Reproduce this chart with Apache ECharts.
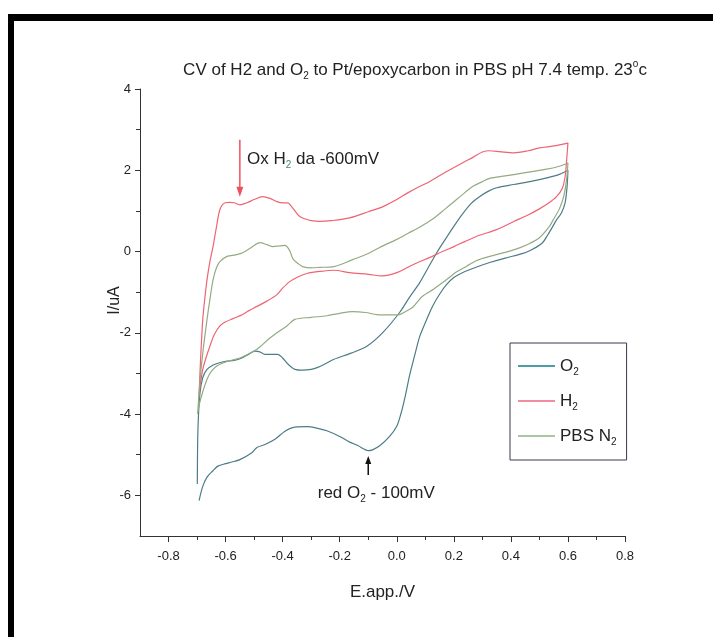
<!DOCTYPE html>
<html><head><meta charset="utf-8">
<script src="https://cdn.jsdelivr.net/npm/echarts@6/dist/echarts.min.js"></script>
<style>html,body{margin:0;padding:0;background:#fff}#c{width:713px;height:637px}</style>
</head><body><div id="c"></div>
<script>
// ---- tick labels ----
const xMajorTicks = [-0.8, -0.6, -0.4, -0.2, 0, 0.2, 0.4, 0.6, 0.8];
const xMinorTicks = [-0.7, -0.5, -0.3, -0.1, 0.1, 0.3, 0.5, 0.7];
const yMajorTicks = [-6, -4, -2, 0, 2, 4];
const yMinorTicks = [-5, -3, -1, 1, 3];
const seriesNames = ['O2', 'H2', 'PBS N2'];

// ---- O2 (forward then reverse sweep) ----
const o2X = [-0.699, -0.697, -0.690, -0.680, -0.665, -0.645, -0.627, -0.600, -0.570, -0.543, -0.520, -0.497, -0.480, -0.462, -0.440, -0.417, -0.400, -0.380, -0.357, -0.330, -0.300, -0.277, -0.250, -0.220, -0.160, -0.105, -0.050, 0.010, 0.045, 0.080, 0.110, 0.140, 0.170, 0.200, 0.230, 0.260, 0.290, 0.320, 0.350, 0.410, 0.466, 0.530, 0.570, 0.600,
  0.597, 0.590, 0.577, 0.560, 0.547, 0.530, 0.510, 0.466, 0.430, 0.380, 0.326, 0.280, 0.230, 0.200, 0.175, 0.150, 0.126, 0.100, 0.080, 0.063, 0.045, 0.030, 0.015, 0.000, -0.025, -0.060, -0.085, -0.100, -0.115, -0.135, -0.165, -0.200, -0.245, -0.277, -0.315, -0.357, -0.392, -0.427, -0.462, -0.490, -0.508, -0.550, -0.578, -0.600, -0.627, -0.645, -0.665, -0.680, -0.693];
const o2Y = [-5.72, -4.40, -3.50, -3.10, -2.90, -2.80, -2.75, -2.70, -2.68, -2.62, -2.53, -2.45, -2.47, -2.53, -2.53, -2.53, -2.62, -2.78, -2.90, -2.92, -2.90, -2.85, -2.76, -2.65, -2.50, -2.33, -2.00, -1.50, -1.12, -0.77, -0.40, -0.03, 0.30, 0.62, 0.92, 1.18, 1.35, 1.48, 1.57, 1.65, 1.72, 1.82, 1.90, 2.00,
  1.60, 1.20, 0.95, 0.78, 0.62, 0.42, 0.21, 0.02, -0.07, -0.16, -0.27, -0.38, -0.52, -0.64, -0.81, -1.05, -1.34, -1.75, -2.10, -2.55, -3.05, -3.55, -3.98, -4.30, -4.55, -4.78, -4.88, -4.90, -4.86, -4.78, -4.69, -4.55, -4.41, -4.35, -4.31, -4.32, -4.42, -4.62, -4.75, -4.82, -4.95, -5.12, -5.18, -5.22, -5.28, -5.40, -5.55, -5.78, -6.13];

// ---- H2 ----
const h2X = [-0.693, -0.688, -0.680, -0.672, -0.665, -0.655, -0.644, -0.632, -0.620, -0.602, -0.585, -0.570, -0.550, -0.525, -0.500, -0.470, -0.445, -0.420, -0.400, -0.382, -0.370, -0.355, -0.340, -0.320, -0.300, -0.270, -0.230, -0.165, -0.100, -0.050, 0.000, 0.040, 0.080, 0.115, 0.170, 0.230, 0.270, 0.300, 0.325, 0.360, 0.410, 0.460, 0.500, 0.550, 0.600,
  0.596, 0.590, 0.580, 0.560, 0.530, 0.500, 0.460, 0.410, 0.350, 0.290, 0.240, 0.200, 0.160, 0.115, 0.070, 0.035, 0.000, -0.050, -0.100, -0.165, -0.220, -0.270, -0.315, -0.345, -0.375, -0.400, -0.420, -0.455, -0.490, -0.520, -0.540, -0.574, -0.600, -0.620, -0.640, -0.655, -0.668, -0.680, -0.688, -0.693];
const h2Y = [-3.55, -2.70, -1.67, -1.10, -0.69, -0.25, 0.12, 0.60, 1.03, 1.20, 1.21, 1.20, 1.15, 1.20, 1.28, 1.35, 1.31, 1.23, 1.20, 1.20, 1.12, 0.98, 0.86, 0.80, 0.76, 0.74, 0.76, 0.83, 0.98, 1.10, 1.28, 1.45, 1.60, 1.72, 1.95, 2.18, 2.33, 2.45, 2.48, 2.46, 2.43, 2.48, 2.55, 2.60, 2.67,
  2.30, 1.84, 1.55, 1.35, 1.18, 1.05, 0.90, 0.74, 0.54, 0.40, 0.25, 0.12, 0.00, -0.15, -0.28, -0.40, -0.52, -0.60, -0.56, -0.52, -0.46, -0.49, -0.54, -0.62, -0.74, -0.90, -1.06, -1.22, -1.35, -1.46, -1.55, -1.65, -1.73, -1.83, -2.05, -2.33, -2.60, -2.90, -3.25, -3.55];

// ---- PBS N2 ----
const n2X = [-0.698, -0.690, -0.680, -0.665, -0.655, -0.644, -0.632, -0.620, -0.595, -0.565, -0.540, -0.510, -0.480, -0.455, -0.434, -0.410, -0.392, -0.375, -0.364, -0.345, -0.330, -0.300, -0.270, -0.220, -0.155, -0.100, -0.060, 0.000, 0.040, 0.080, 0.126, 0.170, 0.196, 0.230, 0.266, 0.300, 0.326, 0.380, 0.440, 0.520, 0.570, 0.600,
  0.595, 0.585, 0.570, 0.550, 0.535, 0.500, 0.466, 0.430, 0.380, 0.326, 0.280, 0.245, 0.210, 0.175, 0.130, 0.090, 0.056, 0.030, 0.010, -0.030, -0.070, -0.110, -0.155, -0.200, -0.245, -0.300, -0.357, -0.385, -0.420, -0.450, -0.480, -0.500, -0.520, -0.543, -0.570, -0.592, -0.627, -0.650, -0.665, -0.680, -0.690, -0.697];
const n2Y = [-4.00, -3.20, -2.50, -1.67, -1.18, -0.70, -0.40, -0.25, -0.12, -0.08, -0.03, 0.10, 0.22, 0.17, 0.12, 0.14, 0.15, 0.02, -0.18, -0.30, -0.37, -0.40, -0.39, -0.37, -0.20, -0.05, 0.10, 0.30, 0.45, 0.60, 0.80, 1.05, 1.20, 1.40, 1.60, 1.72, 1.80, 1.86, 1.93, 2.02, 2.10, 2.18,
  1.75, 1.35, 1.05, 0.80, 0.62, 0.34, 0.20, 0.09, -0.02, -0.12, -0.22, -0.36, -0.50, -0.69, -0.92, -1.10, -1.37, -1.48, -1.55, -1.56, -1.55, -1.50, -1.48, -1.52, -1.58, -1.62, -1.67, -1.83, -2.00, -2.16, -2.35, -2.45, -2.52, -2.60, -2.66, -2.70, -2.80, -2.95, -3.14, -3.45, -3.70, -3.95];

const FONT = '"Liberation Sans", Arial, sans-serif';
const pairs = (xs, ys) => xs.map((x, i) => [x, ys[i]]);
const richName = { 'O2': 'O{sub|2}', 'H2': 'H{sub|2}', 'PBS N2': 'PBS N{sub|2}' };
const subStyle = { fontSize: 10, verticalAlign: 'bottom', lineHeight: 22, fontFamily: FONT, color: '#222' };

const chart = echarts.init(document.getElementById('c'), null, { renderer: 'canvas' });
const colors = ['#4c7c86', '#ef6373', '#93ab83'];
const legendColors = ['#4aa0a6', '#f28ca0', '#a9c8a2'];

const option = {
  backgroundColor: '#ffffff',
  animation: false,
  title: {
    text: 'CV of H2 and O{sub|2} to Pt/epoxycarbon in PBS pH 7.4 temp. 23{sup|o}c',
    left: 415, top: 59, padding: 0, textAlign: 'center',
    textStyle: {
      fontFamily: FONT, fontSize: 17, fontWeight: 'normal', color: '#222', lineHeight: 22,
      rich: {
        sub: subStyle,
        sup: { fontSize: 10, verticalAlign: 'top', lineHeight: 22, fontFamily: FONT, color: '#222' }
      }
    }
  },
  grid: { left: 140, right: 88, top: 89, bottom: 101, containLabel: false },
  legend: {
    data: seriesNames.map((n, i) => ({ name: n, icon: 'rect', itemStyle: { color: legendColors[i] } })),
    orient: 'vertical', left: 510, top: 343,
    padding: [12, 10, 13, 8], itemGap: 13, itemWidth: 37, itemHeight: 2,
    borderColor: '#3a3a4a', borderWidth: 1,
    formatter: n => richName[n],
    textStyle: { fontFamily: FONT, fontSize: 17, color: '#222', lineHeight: 22, rich: { sub: subStyle } }
  },
  xAxis: [{
    type: 'value', min: -0.9, max: 0.8, position: 'bottom',
    axisLine: { show: true, onZero: false, lineStyle: { color: '#333', width: 1 } },
    axisTick: { show: true, length: 6, customValues: xMajorTicks, lineStyle: { color: '#333' } },
    axisLabel: { customValues: xMajorTicks, formatter: v => v.toFixed(1), fontFamily: FONT, fontSize: 13, color: '#222', margin: 14 },
    splitLine: { show: false },
    name: 'E.app./V', nameLocation: 'middle', nameGap: 48, nameMoveOverlap: false,
    nameTextStyle: { fontFamily: FONT, fontSize: 17, color: '#222' }
  }, {
    type: 'value', min: -0.9, max: 0.8, position: 'bottom',
    axisLine: { show: false, onZero: false },
    axisTick: { show: true, length: 4, customValues: xMinorTicks, lineStyle: { color: '#333' } },
    axisLabel: { show: false }, splitLine: { show: false }
  }],
  yAxis: [{
    type: 'value', min: -7, max: 4, position: 'left',
    axisLine: { show: true, onZero: false, lineStyle: { color: '#333', width: 1 } },
    axisTick: { show: true, length: 5, customValues: yMajorTicks, lineStyle: { color: '#333' } },
    axisLabel: { customValues: yMajorTicks, fontFamily: FONT, fontSize: 13, color: '#222', margin: 9 },
    splitLine: { show: false },
    name: 'I/uA', nameLocation: 'middle', nameGap: 17, nameMoveOverlap: false,
    nameTextStyle: { fontFamily: FONT, fontSize: 16, color: '#222', padding: [0, 0, 0, 24] }
  }, {
    type: 'value', min: -7, max: 4, position: 'left',
    axisLine: { show: false, onZero: false },
    axisTick: { show: true, length: 4, customValues: yMinorTicks, lineStyle: { color: '#333' } },
    axisLabel: { show: false }, splitLine: { show: false }
  }],
  series: [
    { name: 'O2', data: pairs(o2X, o2Y) },
    { name: 'H2', data: pairs(h2X, h2Y) },
    { name: 'PBS N2', data: pairs(n2X, n2Y) }
  ].map((s, i) => Object.assign(s, {
    type: 'line', xAxisIndex: 0, yAxisIndex: 0, symbol: 'none', showSymbol: false,
    smooth: 0.3, color: colors[i], lineStyle: { width: 1.2, color: colors[i] }
  }))
};
chart.setOption(option);

// ---- annotations (anchored in data coordinates) ----
const px = (x, y) => chart.convertToPixel({ xAxisIndex: 0, yAxisIndex: 0 }, [x, y]);
const a1Top = px(-0.55, 2.75), a1Bot = px(-0.55, 1.35);
const a2Bot = px(-0.10, -5.5), a2Top = px(-0.10, -5.03);
const t1 = px(-0.525, 2.26), t2 = px(-0.277, -5.96);
const redA = '#f0505e';
chart.setOption({
  graphic: [
    { type: 'rect', shape: { x: 8, y: 14, width: 705, height: 7 }, style: { fill: '#000' } },
    { type: 'rect', shape: { x: 8, y: 14, width: 6, height: 623 }, style: { fill: '#000' } },
    { type: 'line', shape: { x1: a1Top[0], y1: a1Top[1], x2: a1Bot[0], y2: a1Bot[1] - 8 }, style: { stroke: redA, lineWidth: 1.5 } },
    { type: 'polygon', shape: { points: [[a1Bot[0] - 3.5, a1Bot[1] - 10], [a1Bot[0] + 3.5, a1Bot[1] - 10], [a1Bot[0], a1Bot[1]]] }, style: { fill: redA } },
    { type: 'line', shape: { x1: a2Bot[0], y1: a2Bot[1], x2: a2Top[0], y2: a2Top[1] + 7 }, style: { stroke: '#111', lineWidth: 1.5 } },
    { type: 'polygon', shape: { points: [[a2Top[0] - 3, a2Top[1] + 8], [a2Top[0] + 3, a2Top[1] + 8], [a2Top[0], a2Top[1]]] }, style: { fill: '#111' } },
    { type: 'text', x: t1[0], y: t1[1], style: {
        text: 'Ox H{sub|2} da -600mV', fontFamily: FONT, fontSize: 17, fill: '#222', lineHeight: 22,
        verticalAlign: 'middle', align: 'left', rich: { sub: { fontSize: 10, verticalAlign: 'bottom', lineHeight: 22, fontFamily: FONT, fill: '#4a8a6a' } } } },
    { type: 'text', x: t2[0], y: t2[1], style: {
        text: 'red O{sub|2} - 100mV', fontFamily: FONT, fontSize: 17, fill: '#222', lineHeight: 22,
        verticalAlign: 'middle', align: 'left', rich: { sub: { fontSize: 10, verticalAlign: 'bottom', lineHeight: 22, fontFamily: FONT, fill: '#222' } } } }
  ]
});
</script>
</body></html>
